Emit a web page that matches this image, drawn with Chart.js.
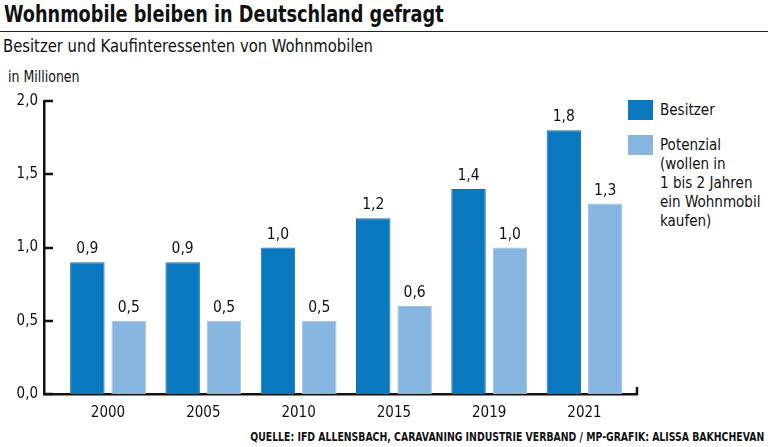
<!DOCTYPE html>
<html>
<head>
<meta charset="utf-8">
<script src="https://cdn.jsdelivr.net/npm/chart.js@4"></script>
<style>
  html, body { margin: 0; padding: 0; background: #fff; }
  body { width: 768px; height: 447px; position: relative; overflow: hidden;
         font-family: "DejaVu Sans Condensed", "DejaVu Sans", sans-serif; font-stretch: condensed; color: #111; }
  .txt { position: absolute; white-space: nowrap; transform-origin: 0 0; }
  #title { left: 4px; top: 1px; font-size: 23px; font-weight: bold; transform: scaleX(0.855); }
  #rule { position: absolute; left: 0; top: 31px; width: 768px; height: 1px; background: #222; }
  #subtitle { left: 3px; top: 35px; font-size: 18px; transform: scaleX(0.915); }
  #unit { left: 8px; top: 68px; font-size: 15px; transform: scaleX(0.93); }
  #source { right: 4px; top: 429px; font-size: 12.5px; font-weight: bold; transform-origin: 100% 0; transform: scaleX(0.83); }
  #legend { position: absolute; left: 628px; top: 100px; }
  .item { position: relative; padding-left: 32px; font-size: 16px; line-height: 19px; margin-bottom: 16px; }
  .item span.lbl { display: inline-block; transform: scaleX(0.94); transform-origin: 0 0; white-space: nowrap; }
  .box { position: absolute; left: 0; top: 0; width: 25px; height: 20px; }
  canvas { position: absolute; left: 0; top: 0; }
</style>
</head>
<body>
<div id="title" class="txt">Wohnmobile bleiben in Deutschland gefragt</div>
<div id="rule"></div>
<div id="subtitle" class="txt">Besitzer und Kaufinteressenten von Wohnmobilen</div>
<div id="unit" class="txt">in Millionen</div>
<div id="legend"></div>
<div id="source" class="txt">QUELLE: IFD ALLENSBACH, CARAVANING INDUSTRIE VERBAND / MP-GRAFIK: ALISSA BAKHCHEVAN</div>
<canvas id="chart" width="768" height="447"></canvas>
<script>
const years = ["2000", "2005", "2010", "2015", "2019", "2021"];
const besitzer = [0.9, 0.9, 1.0, 1.2, 1.4, 1.8];
const potenzial = [0.5, 0.5, 0.5, 0.6, 1.0, 1.3];
const yTicks = [0, 0.5, 1.0, 1.5, 2.0];
const seriesLabels = [["Besitzer"], ["Potenzial", "(wollen in", "1 bis 2 Jahren", "ein Wohnmobil", "kaufen)"]];
const seriesColors = ["#0a78bf", "#86b5df"];
const seriesBorders = ["#1b6db1", "#9cc3e6"];

const FONT = '"DejaVu Sans Condensed", "DejaVu Sans", sans-serif';
const fmt = v => v.toFixed(1).replace(".", ",");

// legend
const legend = document.getElementById("legend");
seriesLabels.forEach((lines, i) => {
  const item = document.createElement("div");
  item.className = "item";
  item.innerHTML = `<span class="box" style="background:${seriesColors[i]}"></span>` +
    `<span class="lbl">${lines.join("<br>")}</span>`;
  legend.appendChild(item);
});

const toPoints = arr => arr.map((v, i) => ({ x: i, y: v }));

const axisDecor = {
  id: "axisDecor",
  afterDraw(chart) {
    const { ctx, chartArea } = chart;
    const y = chart.scales.y;
    ctx.save();
    ctx.strokeStyle = "#111";
    ctx.lineWidth = 2.5;
    ctx.beginPath();
    yTicks.forEach(t => {
      const py = Math.round(y.getPixelForValue(t));
      ctx.moveTo(chartArea.left, py);
      ctx.lineTo(chartArea.left + 9, py);
    });
    ctx.moveTo(chartArea.right, chartArea.bottom + 1);
    ctx.lineTo(chartArea.right, chartArea.bottom - 7);
    ctx.stroke();
    ctx.restore();
  }
};

const valueLabels = {
  id: "valueLabels",
  afterDatasetsDraw(chart) {
    const { ctx } = chart;
    ctx.save();
    ctx.fillStyle = "#111";
    ctx.font = "15.5px " + FONT;
    ctx.textAlign = "center";
    ctx.textBaseline = "alphabetic";
    chart.data.datasets.forEach((ds, di) => {
      chart.getDatasetMeta(di).data.forEach((bar, i) => {
        ctx.fillText(fmt(ds.data[i].y), bar.x, bar.y - 9);
      });
    });
    ctx.restore();
  }
};

new Chart(document.getElementById("chart"), {
  type: "bar",
  data: {
    datasets: [
      { label: "Besitzer", data: toPoints(besitzer), backgroundColor: seriesColors[0],
        borderColor: seriesBorders[0], borderWidth: 1 },
      { label: "Potenzial", data: toPoints(potenzial), backgroundColor: seriesColors[1],
        borderColor: seriesBorders[1], borderWidth: 1 }
    ]
  },
  options: {
    responsive: false,
    animation: false,
    layout: { padding: { top: 101, right: 131, left: 0, bottom: 0 } },
    categoryPercentage: 0.868,
    barPercentage: 0.834,
    plugins: { legend: { display: false }, tooltip: { enabled: false } },
    scales: {
      x: {
        type: "linear",
        offset: false,
        min: -0.672,
        max: 5.551,
        afterBuildTicks: s => { s.ticks = years.map((_, i) => ({ value: i })); },
        afterFit: s => { s.height = 53; },
        grid: { display: false, drawTicks: false, offset: false },
        border: { color: "#111", width: 2.5 },
        ticks: {
          callback: v => years[v],
          color: "#111",
          padding: 10,
          maxRotation: 0,
          font: { family: FONT, size: 15 }
        }
      },
      y: {
        min: 0,
        max: 2,
        afterBuildTicks: s => { s.ticks = yTicks.map(v => ({ value: v })); },
        afterFit: s => { s.width = 44; },
        grid: { display: false, drawTicks: false },
        border: { color: "#111", width: 2.5 },
        ticks: {
          callback: v => fmt(v),
          color: "#111",
          padding: 6,
          font: { family: FONT, size: 15 }
        }
      }
    }
  },
  plugins: [axisDecor, valueLabels]
});
</script>
</body>
</html>
